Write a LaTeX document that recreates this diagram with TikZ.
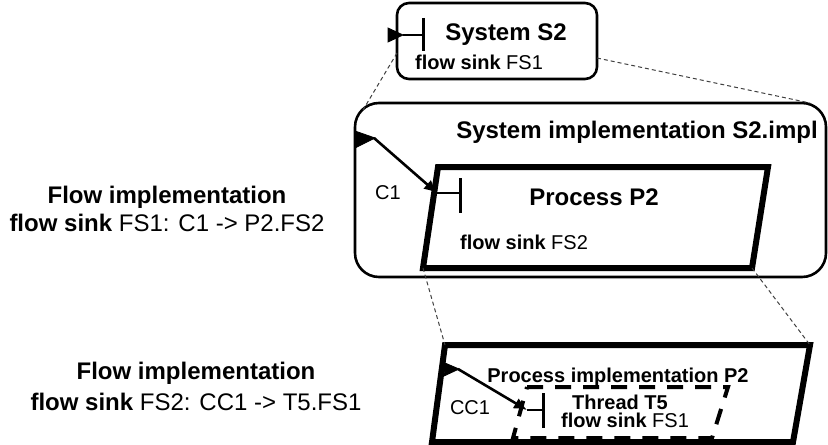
\documentclass[tikz,border=0pt]{standalone}
\usepackage{fontspec}
\setmainfont{Liberation Sans}
\usepackage{tikz}
\usetikzlibrary{arrows,arrows.meta}

\newcommand{\lblbig}{\fontsize{12}{14}\selectfont\bfseries}
\newcommand{\lblsmall}{\fontsize{10}{12}\selectfont}

\begin{document}
\begin{tikzpicture}[x=0.5pt,y=-0.5pt,
    zoomline/.style={black!75,line width=0.5pt,dash pattern=on 2pt off 1.5pt},
    sinkbar/.style={line width=1.5pt},
    wedge/.style={fill=black},
    conn/.style={line width=1.3pt,-{Latex[length=6.5pt,width=6pt]}},
    txt/.style={inner sep=0pt}]
  \useasboundingbox (0,0) rectangle (828,444);

  % flow implementation texts
  \draw (167,197) node[txt] (flowimpl) {\lblbig Flow implementation};
  \draw (167,223) node[txt] (flowfs1) {\lblbig flow sink \mdseries FS1: C1 -> P2.FS2};
  \draw (196,373) node[txt] (flowimpl2) {\lblbig Flow implementation};
  \draw (196,402) node[txt] (flowfs2) {\lblbig flow sink \mdseries FS2: CC1 -> T5.FS1};

  % system S2
  \draw[line width=1.3pt,rounded corners=6pt] (397,3) rectangle (597,79);
  \coordinate (s2l) at (397,53);
  \coordinate (s2r) at (597,58);
  \draw (506,35) node[txt] (s2) {\lblbig System S2};
  \draw (479,62) node[txt] (s2fs1) {\lblsmall\bfseries flow sink \mdseries FS1};
  \draw[wedge] (388,28) -- (403,35) -- (388,42) -- cycle;
  \draw[line width=1.2pt] (403,35) -- (423,35);
  \draw[sinkbar] (423,18) -- (423,51);

  % system implementation S2.impl
  \draw[line width=1.3pt,rounded corners=12pt] (355,103) rectangle (826,277);
  \coordinate (implnw) at (363,110);
  \coordinate (implne) at (810,103);
  \draw (637,132) node[txt] (s2impl) {\lblbig System implementation S2.impl};
  \draw[zoomline] (s2l) -- (implnw);
  \draw[zoomline] (s2r) -- (implne);

  % process P2
  \draw[line width=3pt] (438,167) -- (768,167) -- (752,268) coordinate (p2se)
     -- (423,268) coordinate (p2sw) -- cycle;
  \draw (594,197) node[txt] (p2) {\lblbig Process P2};
  \draw (524,242) node[txt] (p2fs2) {\lblsmall\bfseries flow sink \mdseries FS2};
  \draw[wedge] (355,131) -- (375,138) -- (355,148) -- cycle;
  \coordinate (c1from) at (374,138);
  \coordinate (c1to) at (437,193);
  \draw[conn] (c1from) -- (c1to);
  \draw (388,193) node[txt] (c1) {\lblsmall C1};
  \draw[line width=1.2pt] (c1to) -- (460,193);
  \draw[sinkbar] (460,178) -- (460,213);

  % process implementation P2
  \draw[line width=3pt] (445,345) coordinate (pinw) -- (810,345) coordinate (pine)
     -- (793,442) -- (432,442) -- cycle;
  \draw[zoomline] (p2sw) -- (pinw);
  \draw[zoomline] (p2se) -- (pine);
  \draw (618,377) node[txt] (p2impl) {\lblsmall\bfseries Process implementation P2};

  % thread T5
  \draw[line width=2pt,dash pattern=on 8pt off 6pt] (527,387) -- (728,387) -- (712,438)
     -- (513,438) -- cycle;
  \draw (620,402) node[txt] (t5) {\lblsmall\bfseries Thread T5};
  \draw (625,420) node[txt] (t5fs1) {\lblsmall\bfseries flow sink \mdseries FS1};
  \draw[wedge] (445,363) -- (459,369) -- (444,376) -- cycle;
  \coordinate (cc1from) at (458,369);
  \coordinate (cc1to) at (527,410);
  \draw[conn] (cc1from) -- (cc1to);
  \draw (470,408) node[txt] (cc1) {\lblsmall CC1};
  \draw[line width=1.2pt] (cc1to) -- (543,410);
  \draw[sinkbar] (543,393) -- (543,428);
\end{tikzpicture}
\end{document}
